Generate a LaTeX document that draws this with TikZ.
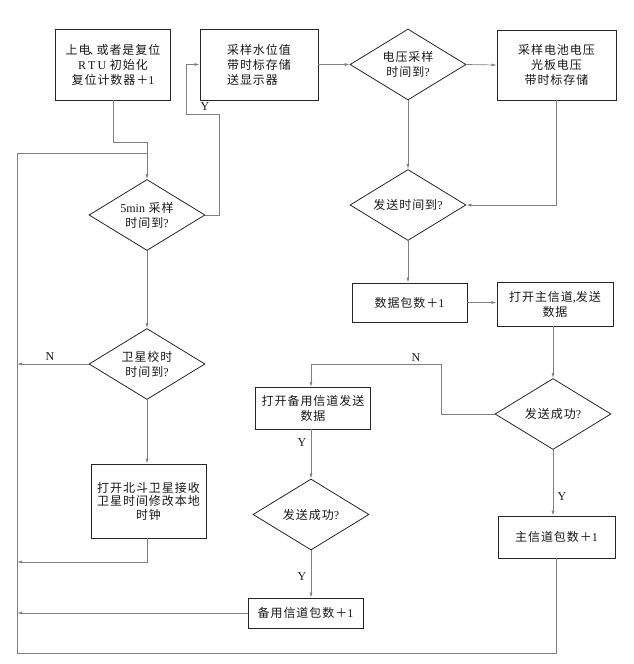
\documentclass[tikz,border=0pt]{standalone}
\usepackage{fontspec}
\setmainfont{Liberation Serif}
\newfontfamily\cjk[LetterSpace=8]{Noto Sans CJK SC}
\usetikzlibrary{shapes.geometric,arrows.meta}
\newcommand\lat[1]{{\rmfamily #1}}
\begin{document}
\begin{tikzpicture}[x=1pt,y=-1pt,
  boxn/.style={draw=black!85, line width=0.8pt, rectangle, inner sep=0pt, align=center,
    font=\fontsize{12}{15}\selectfont\cjk, text=black!90},
  dia/.style={draw=black!85, line width=0.8pt, diamond, inner sep=0pt, aspect=1.65, align=center,
    font=\fontsize{12}{15}\selectfont\cjk, text=black!90, minimum width=116pt, minimum height=71pt},
  conn/.style={draw=black!50, line width=0.7pt},
  arr/.style={conn, -{Latex[length=5pt,width=3pt]}},
  lab/.style={font=\rmfamily\fontsize{12}{14}\selectfont, text=black!90, inner sep=0pt}]
\useasboundingbox[fill=white] (0,0) rectangle (633,664);

% nodes
\node[boxn, minimum width=115pt, minimum height=71pt] (b1) at (113,64.5)
  {上电\kern-2pt 、\kern-4pt 或者是复位\\\lat{R\,T\,U} 初始化\\复位计数器＋\lat{1}};
\node[boxn, minimum width=118pt, minimum height=71pt, align=left] (b2) at (259,64.5)
  {采样水位值\\带时标存储\\送显示器};
\node[dia] (d1) at (408,64.5) {电压采样\\时间到\lat{?}};
\node[boxn, minimum width=119pt, minimum height=70pt] (b3) at (556.5,65)
  {采样电池电压\\光板电压\\带时标存储};
\node[dia] (d2) at (408,205) {发送时间到\lat{?}};
\node[dia] (d0) at (147,215) {\lat{5min} 采样\\时间到\lat{?}};
\node[boxn, minimum width=115pt, minimum height=39pt] (b4) at (409.5,302.5) {数据包数＋\lat{1}};
\node[boxn, minimum width=116pt, minimum height=44pt] (b5) at (555,304) {打开主信道\lat{,}发送\\数据};
\node[dia] (d3) at (553,414) {发送成功\lat{?}};
\node[dia] (d4) at (147,364) {卫星校时\\时间到\lat{?}};
\node[boxn, minimum width=115pt, minimum height=74pt, font=\fontsize{12}{13.5}\selectfont\cjk] (b6) at (148.5,501)
  {打开北斗卫星接收\\卫星时间修改本地\\时钟};
\node[boxn, minimum width=115pt, minimum height=42pt] (b7) at (313,408) {打开备用信道发送\\数据};
\node[dia] (d5) at (311,514.5) {发送成功\lat{?}};
\node[boxn, minimum width=115pt, minimum height=30pt] (b8) at (305.5,613) {备用信道包数＋\lat{1}};
\node[boxn, minimum width=117pt, minimum height=42pt] (b9) at (556.5,537) {主信道包数＋\lat{1}};

\coordinate (j1) at (147,153);

% connectors
\draw[arr] (b1.south) -- (113,142) -| (d0.north);
\draw[conn] (b9.south) |- (17,653) |- (j1);
\draw[arr] (d0.east) -- (219,215) -- (219,114) -- (186,114) |- (b2.west);
\draw[arr] (b2.east) -- (d1.west);
\draw[arr] (d1.east) -- (b3.west);
\draw[arr] (d1.south) -- (d2.north);
\draw[arr] (b3.south) |- (d2.east);
\draw[arr] (d2.south) -- (d2.south |- b4.north);
\draw[arr] (b4.east) -- (b4.east -| b5.west);
\draw[arr] (d3.north |- b5.south) -- (d3.north);
\draw[arr] (d3.west) -- (441,414) -- (441,364) -| (311,387);
\draw[arr] (311,429) -- (d5.north);
\draw[arr] (d5.south) -- (d5.south |- b8.north);
\draw[arr] (b8.west) -- (17,613);
\draw[arr] (d0.south) -- (d4.north);
\draw[arr] (d4.west) -- (17,364);
\draw[arr] (d4.south) -- (d4.south |- b6.north);
\draw[arr] (147,538) -- (147,562) -- (17,562);
\draw[arr] (d3.south) -- (d3.south |- b9.north);

% labels
\node[lab] at (205,107) {Y};
\node[lab] at (50,357) {N};
\node[lab] at (416,358) {N};
\node[lab] at (302,443) {Y};
\node[lab] at (302,577) {Y};
\node[lab] at (562,497) {Y};
\end{tikzpicture}
\end{document}
